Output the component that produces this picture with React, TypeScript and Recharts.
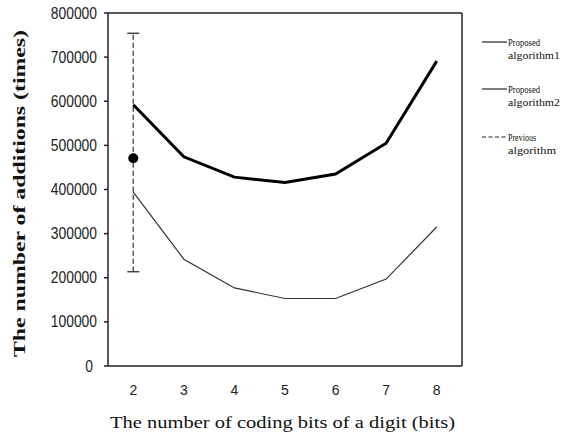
import React from 'react';
import { ComposedChart, Line, Scatter, XAxis, YAxis, ReferenceLine } from 'recharts';

const bits = [2, 3, 4, 5, 6, 7, 8];
const proposed1 = [592000, 474000, 428000, 416000, 435000, 505000, 691000];
const proposed2 = [394000, 242000, 177000, 153000, 153000, 197000, 315000];
const previousBits = 2;
const previousMean = 471000;
const previousLow = 213700;
const previousHigh = 754000;
const yTicks = [0, 100000, 200000, 300000, 400000, 500000, 600000, 700000, 800000];
const bandEdges = [2.5, 3.5, 4.5, 5.5, 6.5, 7.5];
const legendLines = [
  ['Proposed', 'algorithm1'],
  ['Proposed', 'algorithm2'],
  ['Previous', 'algorithm'],
];
const xTitle = 'The number of coding bits of a digit (bits)';
const yTitle = 'The number of additions (times)';

const tableData = bits.map((b, i) => ({ bits: b, p1: proposed1[i], p2: proposed2[i] }));
const prevRange = [
  { bits: previousBits, prev: previousLow },
  { bits: previousBits, prev: previousHigh },
];
const prevMean = [{ bits: previousBits, prev: previousMean }];

const AXIS = '#222';

const YTick = (props: any) => {
  const { x, y, payload } = props;
  const s = String(payload.value);
  return (
    <text
      x={s.length === 1 ? x - 4 : x}
      y={y}
      dy={5.5}
      textAnchor="end"
      fontFamily="'Liberation Sans', Arial, sans-serif"
      fontSize={16}
      fill="#222"
      textLength={s.length * 7.7}
      lengthAdjust="spacingAndGlyphs"
    >
      {s}
    </text>
  );
};

const XTick = (props: any) => {
  const { x, y, payload } = props;
  return (
    <text
      x={x}
      y={y + 29}
      textAnchor="middle"
      fontFamily="'Liberation Sans', Arial, sans-serif"
      fontSize={14}
      fill="#222"
    >
      {String(payload.value)}
    </text>
  );
};

const CapShape = (props: any) => {
  const { cx, cy } = props;
  return <line x1={cx - 6} x2={cx + 6} y1={cy} y2={cy} stroke="#444" strokeWidth={1.5} />;
};

const DotShape = (props: any) => {
  const { cx, cy } = props;
  return <circle cx={cx} cy={cy} r={5} fill="#000" />;
};

export default function App() {
  const legendY = [42, 89, 137];
  return (
    <div style={{ position: 'absolute', left: 0, top: 0, width: 561, height: 442, background: '#fff' }}>
      <ComposedChart
        width={561}
        height={442}
        data={tableData}
        margin={{ top: 13, right: 99, bottom: 0, left: 0 }}
      >
        <XAxis
          xAxisId="edges"
          type="number"
          domain={[1.5, 8.5]}
          ticks={bandEdges}
          allowDataOverflow
          height={0}
          mirror
          axisLine={false}
          tickSize={6}
          tickLine={{ stroke: AXIS, strokeWidth: 1.5 }}
          tick={() => <g />}
        />
        <XAxis
          dataKey="bits"
          type="number"
          domain={[1.5, 8.5]}
          ticks={bits}
          allowDataOverflow
          height={76}
          tickLine={false}
          tickSize={0}
          tickMargin={0}
          axisLine={{ stroke: AXIS, strokeWidth: 1.5 }}
          tick={<XTick />}
        />
        <YAxis
          type="number"
          domain={[0, 800000]}
          ticks={yTicks}
          width={108}
          tickSize={4}
          tickMargin={7}
          tickLine={{ stroke: AXIS, strokeWidth: 1.5 }}
          axisLine={{ stroke: AXIS, strokeWidth: 1.5 }}
          tick={<YTick />}
        />
        <ReferenceLine y={800000} stroke={AXIS} strokeWidth={1.5} />
        <ReferenceLine x={8.5} stroke={AXIS} strokeWidth={1.5} />
        <Line
          data={prevRange}
          dataKey="prev"
          stroke="#555"
          strokeWidth={1.5}
          strokeDasharray="5 3"
          dot={false}
          isAnimationActive={false}
        />
        <Scatter data={prevRange} dataKey="prev" shape={<CapShape />} isAnimationActive={false} />
        <Scatter data={prevMean} dataKey="prev" shape={<DotShape />} isAnimationActive={false} />
        <Line
          dataKey="p2"
          stroke="#333"
          strokeWidth={1.2}
          dot={false}
          isAnimationActive={false}
        />
        <Line
          dataKey="p1"
          stroke="#000"
          strokeWidth={3}
          dot={false}
          isAnimationActive={false}
        />
      </ComposedChart>
      <svg
        width={561}
        height={442}
        style={{ position: 'absolute', left: 0, top: 0, pointerEvents: 'none' }}
      >
        <text
          x={110}
          y={428}
          fontFamily="'Liberation Serif', 'Times New Roman', serif"
          fontSize={16.5}
          fill="#111"
          textLength={345}
          lengthAdjust="spacingAndGlyphs"
        >
          {xTitle}
        </text>
        <text
          transform="translate(25,357) rotate(-90)"
          x={0}
          y={0}
          fontFamily="'Liberation Serif', 'Times New Roman', serif"
          fontWeight="bold"
          fontSize={17}
          fill="#111"
          textLength={327}
          lengthAdjust="spacingAndGlyphs"
        >
          {yTitle}
        </text>
        {legendLines.map((lines, i) => (
          <g key={i}>
            <line
              x1={482}
              x2={507}
              y1={legendY[i]}
              y2={legendY[i]}
              stroke="#222"
              strokeWidth={1.2}
              strokeDasharray={i === 2 ? '4 2.5' : undefined}
            />
            <text
              x={508}
              y={legendY[i] + 4}
              fontFamily="'Liberation Serif', 'Times New Roman', serif"
              fontSize={11}
              fill="#111"
              textLength={i === 2 ? 28 : 32}
              lengthAdjust="spacingAndGlyphs"
            >
              {lines[0]}
            </text>
            <text
              x={508}
              y={legendY[i] + 16.5}
              fontFamily="'Liberation Serif', 'Times New Roman', serif"
              fontSize={11}
              fill="#111"
              textLength={i === 2 ? 48 : 52}
              lengthAdjust="spacingAndGlyphs"
            >
              {lines[1]}
            </text>
          </g>
        ))}
      </svg>
    </div>
  );
}
